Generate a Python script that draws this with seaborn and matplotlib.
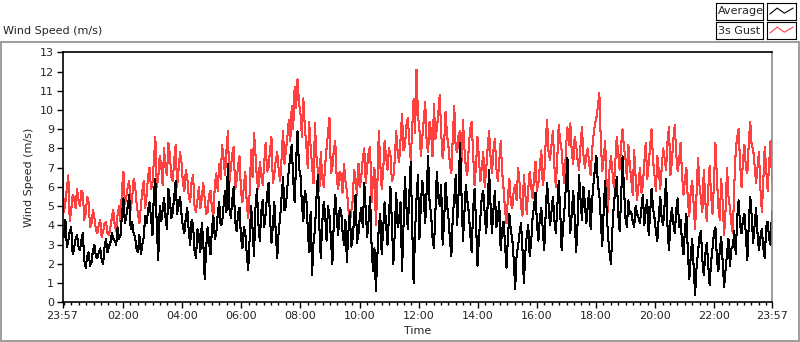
import numpy as np
import pandas as pd
import matplotlib
matplotlib.use('Agg')
import matplotlib.pyplot as plt
from matplotlib.patches import Rectangle
from matplotlib.ticker import FixedLocator
import seaborn as sns

# -----------------------------------------------------------
# Data (one value every ~3 minutes)
# -----------------------------------------------------------
gust_values = [
    # 23:57 - 04:45
    6.9, 4.7, 5.2, 5.9, 6.6, 4.2, 4.8, 5.6, 5.4, 4.9, 5.9, 5.3, 5.0, 5.8, 5.7, 4.3, 4.6, 5.5, 5.2, 3.9,
    4.1, 4.8, 4.4, 3.8, 3.6, 4.0, 4.3, 3.4, 3.7, 4.1, 4.2, 3.6, 3.5, 3.9, 4.4, 4.8, 4.0, 3.7, 4.6, 5.0,
    4.2, 5.9, 6.8, 5.1, 5.5, 6.0, 6.3, 4.8, 5.4, 6.4, 6.1, 5.2, 4.6, 4.1, 5.0, 5.8, 6.3, 4.9, 5.6, 6.6,
    7.0, 5.9, 6.2, 7.4, 8.6, 6.0, 6.5, 7.6, 7.2, 6.1, 8.0, 7.0, 6.6, 8.3, 7.7, 6.5, 6.3, 7.4, 8.2, 6.0,
    6.9, 7.8, 7.3, 6.2, 5.8, 6.9, 6.5, 5.5, 5.2, 6.3, 6.6, 5.0, 4.7, 5.3, 6.0, 4.9, 5.4, 6.2,
    # 04:45 - 09:35
    5.4, 4.6, 4.7, 5.6, 5.8, 4.9, 4.5, 6.1, 6.7, 5.8, 7.2, 6.4, 8.2, 7.5, 6.6, 7.9, 8.9, 6.2, 7.0, 7.7,
    8.1, 5.9, 6.3, 7.1, 7.6, 5.8, 5.2, 6.0, 6.8, 5.1, 4.4, 5.7, 7.9, 6.5, 8.8, 7.7, 6.4, 5.9, 7.3, 6.6,
    6.1, 7.2, 8.3, 6.8, 7.0, 7.9, 8.6, 6.2, 6.7, 7.4, 7.8, 6.9, 6.3, 7.5, 8.9, 7.2, 7.9, 8.6, 9.5, 8.4,
    10.2, 9.0, 11.2, 10.1, 11.6, 10.4, 9.8, 8.6, 10.6, 9.1, 8.2, 7.0, 9.4, 8.1, 7.1, 6.2, 9.3, 7.6, 6.8, 5.8,
    7.8, 6.5, 6.0, 7.1, 8.0, 8.8, 9.6, 6.7, 7.0, 7.9, 8.4, 6.4, 5.9, 6.8, 6.6, 5.7, 7.2, 6.3,
    # 09:35 - 14:25
    5.8, 4.9, 4.1, 4.7, 5.3, 6.9, 6.4, 5.6, 7.2, 6.0, 6.6, 7.5, 8.0, 6.2, 7.1, 7.8, 8.1, 5.2, 6.3, 7.0,
    4.0, 6.1, 8.9, 7.2, 5.9, 6.8, 8.4, 7.6, 6.9, 8.0, 7.7, 6.3, 6.5, 7.4, 8.9, 7.8, 7.3, 8.5, 9.8, 7.9,
    8.1, 9.2, 9.6, 8.4, 7.4, 9.0, 10.6, 8.8, 12.1, 9.7, 9.0, 7.6, 8.6, 9.5, 10.4, 8.3, 7.8, 9.4, 8.9, 7.6,
    10.3, 8.5, 9.0, 9.8, 10.8, 8.8, 7.5, 8.2, 9.9, 8.7, 8.1, 7.2, 6.7, 8.6, 10.2, 8.0, 7.8, 8.7, 8.9, 7.3,
    9.5, 8.0, 7.0, 6.6, 8.1, 9.0, 9.4, 7.7, 6.1, 7.1, 8.6, 7.5, 6.3, 7.0, 7.8, 6.0, 6.9, 8.0,
    # 14:25 - 19:10
    8.9, 7.6, 6.7, 7.9, 8.5, 7.0, 6.3, 7.3, 8.4, 6.8, 5.9, 4.8, 4.1, 5.5, 6.4, 5.2, 4.9, 5.8, 6.1, 5.3,
    7.0, 6.2, 5.0, 4.5, 6.6, 5.6, 4.6, 5.9, 6.8, 6.0, 5.4, 6.5, 7.3, 5.8, 6.2, 7.1, 7.9, 6.1, 6.6, 8.3,
    9.5, 7.8, 7.4, 8.2, 8.9, 7.1, 6.0, 7.5, 9.2, 8.4, 7.9, 6.8, 6.2, 8.0, 9.1, 8.2, 9.3, 7.8, 7.2, 8.6,
    8.2, 7.4, 6.9, 8.1, 9.1, 7.7, 7.0, 7.6, 8.0, 7.2, 6.6, 7.9, 8.7, 9.3, 9.6, 10.2, 10.9, 8.4, 6.8, 7.5,
    8.4, 6.2, 4.7, 6.9, 7.6, 6.8, 6.0, 7.3, 8.6, 7.7, 6.9, 8.2, 9.0, 8.0, 7.5, 6.4, 8.2, 7.1,
    # 19:10 - 23:57
    6.4, 5.6, 7.9, 6.5, 5.3, 6.1, 7.0, 5.7, 6.1, 7.3, 8.3, 6.4, 7.2, 8.1, 9.0, 7.4, 6.6, 5.8, 7.6, 6.8,
    5.9, 7.0, 8.0, 7.5, 6.9, 8.4, 9.1, 6.6, 7.3, 8.5, 9.2, 7.7, 6.8, 7.4, 8.3, 6.6, 5.6, 6.4, 7.0, 5.3,
    4.5, 5.8, 6.3, 5.1, 3.8, 5.6, 7.5, 6.1, 5.4, 4.7, 6.9, 5.3, 4.2, 5.8, 7.1, 5.6, 4.6, 6.2, 8.3, 6.5,
    5.0, 4.3, 6.4, 5.2, 3.5, 4.8, 7.0, 5.5, 4.9, 4.1, 3.6, 6.1, 7.9, 8.6, 9.0, 7.2, 6.0, 7.4, 8.2, 7.0,
    6.7, 8.3, 9.4, 8.1, 8.0, 7.1, 6.2, 7.0, 7.8, 5.9, 4.7, 6.3, 8.1, 6.9, 5.8, 7.2, 8.4, 6.3,
]
average_values = [
    # 23:57 - 04:45
    3.8, 3.4, 4.3, 2.9, 3.2, 3.7, 3.9, 2.5, 2.8, 3.3, 3.5, 2.9, 2.7, 3.2, 3.6, 2.2, 1.8, 2.4, 2.6, 1.9,
    2.1, 2.7, 3.0, 2.4, 2.3, 2.6, 2.8, 2.2, 2.0, 2.9, 3.3, 2.6, 2.9, 3.1, 3.6, 3.3, 3.2, 3.0, 3.9, 3.3,
    3.5, 4.6, 5.4, 4.1, 4.5, 5.0, 5.6, 3.8, 4.2, 3.6, 3.4, 2.8, 2.6, 3.5, 2.5, 3.0, 3.4, 4.5, 4.1, 4.8,
    5.2, 4.4, 3.5, 5.7, 6.4, 3.9, 2.2, 5.0, 4.2, 4.8, 5.4, 4.4, 3.8, 5.9, 5.3, 4.4, 4.7, 5.5, 6.3, 4.6,
    5.0, 5.5, 4.6, 3.9, 3.6, 4.4, 4.9, 3.7, 3.0, 4.3, 4.0, 2.7, 2.3, 3.8, 3.5, 2.6, 4.1, 3.2,
    # 04:45 - 09:35
    1.2, 2.8, 3.9, 3.1, 2.5, 3.8, 4.5, 3.3, 3.6, 4.6, 5.2, 4.0, 4.1, 5.0, 5.8, 4.7, 7.2, 4.9, 4.4, 5.3,
    6.0, 4.2, 3.7, 4.6, 4.9, 3.4, 2.8, 3.9, 3.6, 2.5, 1.7, 3.4, 5.0, 3.8, 2.4, 4.9, 5.9, 4.1, 3.2, 4.7,
    5.3, 3.9, 4.6, 5.6, 6.2, 4.4, 3.1, 4.0, 5.2, 3.6, 2.3, 3.7, 4.4, 5.5, 6.5, 4.8, 5.0, 6.0, 6.9, 7.6,
    8.2, 6.4, 5.2, 7.3, 8.9, 7.0, 6.6, 5.1, 4.2, 5.8, 5.5, 3.9, 2.6, 4.7, 1.4, 3.1, 3.8, 5.4, 6.6, 4.0,
    2.3, 4.1, 5.2, 4.6, 3.2, 5.0, 4.5, 3.3, 2.0, 4.2, 5.6, 4.4, 3.5, 4.9, 4.8, 3.7, 3.0, 4.3,
    # 09:35 - 14:25
    2.1, 3.6, 4.7, 2.9, 3.3, 4.4, 5.6, 3.1, 3.6, 4.5, 4.9, 3.9, 6.2, 4.8, 3.4, 4.3, 5.5, 3.0, 1.6, 2.8,
    0.6, 2.4, 3.9, 4.6, 2.5, 3.8, 5.2, 4.1, 3.0, 4.5, 6.0, 4.2, 2.0, 3.6, 5.7, 3.9, 4.3, 5.2, 1.6, 3.9,
    6.5, 5.0, 3.8, 5.6, 7.3, 4.0, 1.0, 3.7, 5.4, 6.6, 3.3, 5.1, 6.3, 5.4, 4.1, 5.9, 7.6, 5.2, 4.6, 3.4,
    2.8, 4.7, 6.8, 5.5, 5.0, 6.1, 3.0, 4.2, 6.2, 5.1, 4.4, 3.3, 2.4, 4.5, 5.4, 6.6, 4.0, 5.7, 8.3, 5.6,
    3.2, 4.6, 6.1, 5.3, 4.7, 3.6, 2.6, 4.8, 5.9, 4.2, 1.9, 3.3, 4.4, 5.5, 5.8, 4.6, 3.6, 5.0,
    # 14:25 - 19:10
    6.9, 5.1, 3.6, 4.8, 5.8, 3.9, 4.3, 5.2, 2.7, 3.8, 4.2, 3.0, 1.8, 3.4, 4.6, 3.7, 3.3, 2.2, 0.7, 2.5,
    2.9, 3.6, 4.1, 2.8, 1.0, 2.6, 3.5, 4.0, 2.4, 3.1, 4.4, 5.0, 5.7, 4.1, 3.2, 4.4, 4.9, 3.8, 2.7, 4.6,
    6.2, 5.1, 4.0, 4.7, 5.5, 4.3, 3.6, 5.0, 6.3, 4.8, 2.7, 3.9, 4.9, 6.1, 7.5, 5.2, 3.6, 4.6, 5.8, 4.4,
    2.6, 4.1, 6.6, 5.4, 4.3, 6.0, 5.2, 4.1, 5.0, 5.8, 3.8, 5.3, 6.2, 7.0, 7.6, 6.1, 5.6, 4.3, 2.9, 4.8,
    6.3, 4.9, 3.4, 2.6, 2.0, 3.8, 5.1, 5.8, 6.5, 4.6, 3.7, 5.4, 7.6, 5.9, 4.4, 3.9, 5.3, 4.6,
    # 19:10 - 23:57
    4.7, 4.2, 3.9, 5.0, 4.6, 4.4, 4.1, 4.9, 5.6, 4.0, 4.8, 5.3, 3.5, 4.6, 5.9, 4.9, 4.4, 3.7, 3.2, 4.5,
    5.5, 4.3, 4.0, 5.1, 6.4, 3.9, 2.7, 4.2, 4.9, 4.1, 3.6, 4.8, 5.4, 3.9, 4.3, 3.1, 2.5, 3.8, 4.6, 2.6,
    1.2, 2.4, 3.3, 1.9, 0.4, 1.8, 2.6, 3.4, 3.7, 2.2, 1.4, 2.5, 3.1, 2.0, 0.9, 2.1, 2.8, 3.6, 3.9, 2.3,
    1.6, 2.7, 3.4, 2.1, 0.8, 1.7, 2.5, 3.3, 1.9, 2.8, 2.9, 3.7, 2.5, 4.4, 5.3, 4.0, 3.6, 4.3, 4.6, 3.5,
    2.2, 4.1, 5.5, 4.5, 3.1, 4.0, 4.9, 3.6, 2.7, 3.4, 3.8, 2.8, 2.3, 3.9, 4.2, 3.3, 3.0, 4.7,
]
series_names = ['Average', '3s Gust']
x_tick_labels = ['23:57', '02:00', '04:00', '06:00', '08:00', '10:00', '12:00',
                 '14:00', '16:00', '18:00', '20:00', '22:00', '23:57']
y_ticks = list(range(0, 14))

# tijd in minuten sinds 23:57
span_minutes = 1440
minutes = np.linspace(0, span_minutes, len(gust_values))
df = pd.DataFrame({'minutes': minutes, 'Average': average_values, '3s Gust': gust_values})

W, H = 800, 342


def px(x0, y0, x1, y1):
    # pixel box -> figure coords [left, bottom, width, height]
    return [x0 / W, 1 - y1 / H, (x1 - x0) / W, (y1 - y0) / H]


sns.set_style('white')
plt.rcParams['font.family'] = ['DejaVu Sans']
plt.rcParams['font.size'] = 8

fig = plt.figure(figsize=(W / 100, H / 100), dpi=100)

# outer grey frame of the graph panel
fig.patches.append(Rectangle((0.5 / W, 0.8 / H), 798.5 / W, 299.5 / H, transform=fig.transFigure,
                             fill=False, edgecolor='#8c8c8c', linewidth=1.2))
fig.text(3 / W, 1 - 31 / H, 'Wind Speed (m/s)', fontsize=8, va='center', ha='left')

ax = fig.add_axes(px(62.5, 52.3, 772, 302.3))
sns.lineplot(data=df, x='minutes', y='3s Gust', color='#ff4040', linewidth=0.75,
             antialiased=False, ax=ax)
sns.lineplot(data=df, x='minutes', y='Average', color='black', linewidth=0.75,
             antialiased=False, ax=ax)

ax.set_xlim(0, span_minutes)
ax.set_ylim(0, 13)
ax.set_yticks(y_ticks)
major_pos = [0] + [123 + 120 * i for i in range(11)] + [span_minutes]
ax.set_xticks(major_pos)
ax.set_xticklabels(x_tick_labels)
ax.xaxis.set_minor_locator(FixedLocator(list(range(3, span_minutes, 15))))
ax.tick_params(axis='both', which='major', direction='out', length=4, width=1, color='black', pad=2,
               labelsize=8, bottom=True, left=True)
ax.tick_params(axis='x', which='minor', direction='out', length=2.5, width=1, color='black', bottom=True)
ax.set_xlabel('Time', fontsize=8, labelpad=4)
ax.set_ylabel('Wind Speed (m/s)', fontsize=8, labelpad=4)
for side in ['top', 'left', 'bottom']:
    ax.spines[side].set_color('black')
    ax.spines[side].set_linewidth(1.2)
ax.spines['right'].set_color('#8c8c8c')
ax.spines['right'].set_linewidth(1.2)

# legend in LabVIEW style (label box + swatch box)
legend_rows = [(3, 20, 'black'), (22, 39, '#ff4040')]
for name, (y0, y1, col) in zip(series_names, legend_rows):
    lab = fig.add_axes(px(716, y0, 763, y1))
    lab.set_xticks([])
    lab.set_yticks([])
    lab.text(0.04, 0.5, name, fontsize=8, va='center', ha='left', transform=lab.transAxes)
    sw = fig.add_axes(px(767, y0, 796, y1))
    sw.set_xticks([])
    sw.set_yticks([])
    sw.plot([0.1, 0.35, 0.6, 0.9], [0.35, 0.7, 0.4, 0.7], color=col, linewidth=0.8)
    sw.set_xlim(0, 1)
    sw.set_ylim(0, 1)
    for a in (lab, sw):
        for s in a.spines.values():
            s.set_color('black')
            s.set_linewidth(0.8)

fig.savefig('out.png', dpi=100)
